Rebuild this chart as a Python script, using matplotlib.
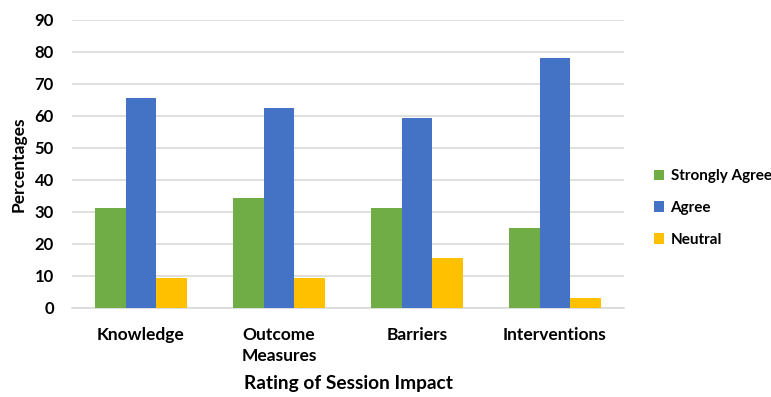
import matplotlib
matplotlib.use("Agg")
import matplotlib.pyplot as plt
import numpy as np

categories = ["Knowledge", "Outcome\nMeasures", "Barriers", "Interventions"]
strongly_agree = [31.2, 34.3, 31.2, 24.9]
agree = [65.6, 62.5, 59.4, 78.1]
neutral = [9.4, 9.4, 15.6, 3.1]
series_names = ["Strongly Agree", "Agree", "Neutral"]
colors = ["#70AD47", "#4472C4", "#FFC000"]
yticks = [0, 10, 20, 30, 40, 50, 60, 70, 80, 90]

plt.rcParams['font.family'] = ['Lato', 'DejaVu Sans']
plt.rcParams['font.weight'] = 'bold'

fig = plt.figure(figsize=(7.71, 3.97), dpi=100)
ax = fig.add_axes([72/771, 1-308/397, (624-72)/771, (308-19.5)/397])

x = np.arange(len(categories))
w = 0.224
for i, (vals, name, c) in enumerate(zip([strongly_agree, agree, neutral], series_names, colors)):
    ax.bar(x + (i-1)*w, vals, width=w, color=c, label=name, zorder=3)

ax.set_xlim(-0.5, len(categories)-0.5)
ax.set_ylim(0, 90)
ax.set_yticks(yticks)
ax.set_xticks(x)
ax.set_xticklabels(categories, fontsize=12.5, fontweight='bold', linespacing=1.35)
ax.tick_params(axis='y', labelsize=12, length=0, pad=13)
ax.tick_params(axis='x', length=0, pad=14)
for lab in ax.get_yticklabels():
    lab.set_fontweight('bold')
ax.grid(axis='y', color='#d9d9d9', linewidth=1.2, zorder=0)
for s in ['top', 'right', 'left']:
    ax.spines[s].set_visible(False)
ax.spines['bottom'].set_color('#d9d9d9')
ax.spines['bottom'].set_linewidth(1.2)

ax.set_ylabel("Percentages", fontsize=12.5, fontweight='bold', labelpad=6)
ax.set_xlabel("Rating of Session Impact", fontsize=13.8, fontweight='bold', labelpad=8)

leg = fig.legend(loc='center left', bbox_to_anchor=(640/771, 1-208/397), frameon=False,
                 handlelength=0.7, handleheight=0.7, handletextpad=0.4,
                 labelspacing=1.15, prop={'weight': 'bold', 'size': 11})

fig.savefig("out.png", dpi=100)
